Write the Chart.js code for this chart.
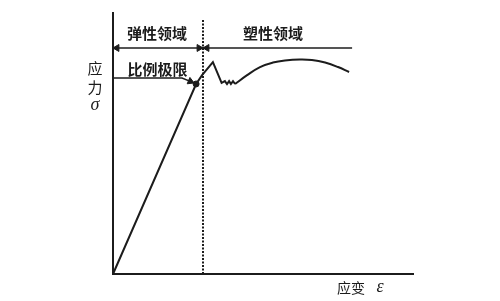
<!DOCTYPE html>
<html>
<head>
<meta charset="utf-8">
<script src="https://cdn.jsdelivr.net/npm/chart.js@4.4.0/dist/chart.umd.min.js"></script>
<style>
html,body{margin:0;padding:0;background:#fff;}
#wrap{width:500px;height:301px;}
</style>
</head>
<body>
<div id="wrap"><canvas id="stage"></canvas></div>
<script>
// strain (x) / stress (y), both on a 0..100 scale
// elastic line, proportional limit, upper yield peak and the little wiggles
const elasticX = [0, 27.7, 29.7, 33.3, 36.2, 37.3, 38.0, 38.7, 39.3, 40.0, 40.7];
const elasticY = [0, 72.8, 76.2, 81.2, 73.2, 73.9, 72.8, 73.9, 72.8, 73.9, 72.8];
// hardening arc in the plastic region
const plasticX = [40.7, 44.7, 49.0, 53.3, 57.3, 62.3, 66.3, 70.7, 75.0, 78.7];
const plasticY = [72.8, 76.2, 79.3, 81.0, 81.8, 82.2, 82.0, 81.0, 79.3, 77.4];
const limitPoint = [27.7, 72.8];
// elastic / plastic boundary (dotted)
const boundaryX = [30, 30];
const boundaryY = [0, 97.3];
// dimension line above the curve
const spanX = [0, 79.7];
const spanY = [86.6, 86.6];
// leader to the proportional limit
const leaderX = [0, 23, 26.6];
const leaderY = [75.1, 75.1, 73.4];
// arrow heads: x, y, rotation
const arrowX = [1.3, 28.7, 31.3, 25.8];
const arrowY = [86.6, 86.6, 86.6, 73.8];
const arrowRot = [270, 90, 270, 113];
// labels
const regionLabels = ['弹性领域', '塑性领域'];
const regionLabelX = [14.7, 53.3];
const regionLabelY = 92.2;
const limitLabel = '比例极限';
const limitLabelPos = [14.8, 78.5];
const yTitle = ['应', '力'];
const yTitleX = -6;
const yTitleY = [78.9, 71.6];
const yTitleSym = 'σ';
const yTitleSymY = 64.6;
const xTitle = '应变';
const xTitlePos = [79.3, -5.4];
const xTitleSym = 'ε';
const xTitleSymX = 89;

const ink = '#1c1c1c';
const canvas = document.getElementById('stage');

function pts(xs, ys) {
    return xs.map((v, i) => ({x: v, y: ys[i]}));
}

const textPlugin = {
    id: 'texts',
    afterDatasetsDraw(chart) {
        const ctx = chart.ctx;
        const x = chart.scales.x;
        const y = chart.scales.y;
        ctx.save();
        ctx.fillStyle = ink;
        ctx.textAlign = 'center';
        ctx.textBaseline = 'middle';
        ctx.font = '600 15px "Noto Sans CJK SC"';
        for (let i = 0; i < regionLabels.length; ++i) {
            ctx.fillText(regionLabels[i], x.getPixelForValue(regionLabelX[i]), y.getPixelForValue(regionLabelY));
        }
        ctx.fillText(limitLabel, x.getPixelForValue(limitLabelPos[0]), y.getPixelForValue(limitLabelPos[1]));
        ctx.font = '400 15px "Noto Sans CJK SC"';
        for (let i = 0; i < yTitle.length; ++i) {
            ctx.fillText(yTitle[i], x.getPixelForValue(yTitleX), y.getPixelForValue(yTitleY[i]));
        }
        ctx.font = '400 14px "Noto Sans CJK SC"';
        ctx.fillText(xTitle, x.getPixelForValue(xTitlePos[0]), y.getPixelForValue(xTitlePos[1]));
        ctx.font = 'italic 18px "Liberation Serif"';
        ctx.fillText(yTitleSym, x.getPixelForValue(yTitleX), y.getPixelForValue(yTitleSymY));
        ctx.fillText(xTitleSym, x.getPixelForValue(xTitleSymX), y.getPixelForValue(xTitlePos[1]) - 1);
        ctx.restore();
    }
};

const noAxis = {
    grid: {display: false, drawTicks: false},
    ticks: {display: false},
    border: {display: true, color: ink, width: 2}
};

new Chart(canvas, {
    type: 'scatter',
    data: {
        datasets: [
            {data: pts(elasticX, elasticY), showLine: true, borderColor: ink, borderWidth: 2, pointRadius: 0, tension: 0},
            {data: pts(plasticX, plasticY), showLine: true, borderColor: ink, borderWidth: 2, pointRadius: 0, tension: 0.4},
            {data: pts(boundaryX, boundaryY), showLine: true, borderColor: ink, borderWidth: 2, borderDash: [2, 1.5], pointRadius: 0},
            {data: pts(spanX, spanY), showLine: true, borderColor: ink, borderWidth: 1.5, pointRadius: 0},
            {data: pts(leaderX, leaderY), showLine: true, borderColor: ink, borderWidth: 1.5, pointRadius: 0},
            {data: pts(arrowX, arrowY), showLine: false, pointStyle: 'triangle', pointRadius: 4, pointRotation: arrowRot,
             backgroundColor: ink, borderColor: ink, borderWidth: 1},
            {data: [{x: limitPoint[0], y: limitPoint[1]}], pointRadius: 3, backgroundColor: ink, borderColor: ink}
        ]
    },
    options: {
        responsive: true,
        maintainAspectRatio: false,
        animation: false,
        layout: {padding: {left: 113, top: 13, right: 87, bottom: 27}},
        plugins: {legend: {display: false}, tooltip: {enabled: false}},
        elements: {line: {borderCapStyle: 'butt'}},
        scales: {
            x: Object.assign({type: 'linear', min: 0, max: 100}, noAxis),
            y: Object.assign({type: 'linear', min: 0, max: 100}, noAxis)
        },
        datasets: {scatter: {clip: false}}
    },
    plugins: [textPlugin]
});
</script>
</body>
</html>
